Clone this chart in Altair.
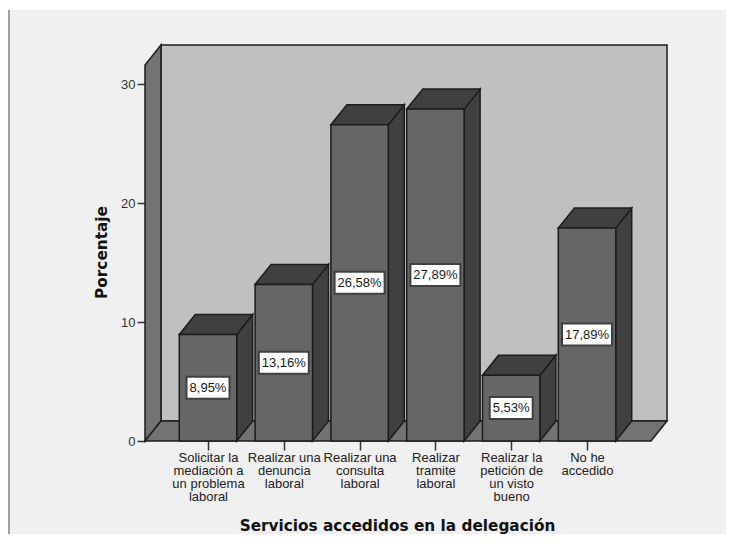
import json
import altair as alt
import pandas as pd

categories = [
    ["Solicitar la", "mediación a", "un problema", "laboral"],
    ["Realizar una", "denuncia", "laboral"],
    ["Realizar una", "consulta", "laboral"],
    ["Realizar", "tramite", "laboral"],
    ["Realizar la", "petición de", "un visto", "bueno"],
    ["No he", "accedido"],
]
values = [8.95, 13.16, 26.58, 27.89, 5.53, 17.89]
value_labels = ["8,95%", "13,16%", "26,58%", "27,89%", "5,53%", "17,89%"]

PX_X = 75.8
PX_Y = 11.9
W, H = 716, 524
X0_PX, Y0_PX = 198.0, 431.0   # position of bar 0 centre / value 0 in the view
HALF = 28.7 / PX_X
DX = 16 / PX_X
DY = 20 / PX_Y
LEFT = -63 / PX_X
RIGHT = 443 / PX_X
TOP = 31.6

xs = alt.Scale(domain=[-X0_PX / PX_X, (W - X0_PX) / PX_X], nice=False, zero=False)
ys = alt.Scale(domain=[(Y0_PX - H) / PX_Y, Y0_PX / PX_Y], nice=False, zero=False)

EDGE = "#1c1c1c"
style = dict(stroke=EDGE, strokeWidth=1.5, strokeJoin="miter")

label_expr = json.dumps(categories, ensure_ascii=False) + "[datum.value]"
x_axis = alt.Axis(
    values=list(range(len(categories))), labelExpr=label_expr, offset=-93,
    title="Servicios accedidos en la delegación", titleFont="DejaVu Sans", titleFontSize=15.3,
    titleFontWeight="bold", titleColor="#111111", titleX=387, titleY=84,
    titleAnchor="middle", titleAlign="center", titleBaseline="middle",
    labelFont="Liberation Sans", labelFontSize=13, labelLineHeight=13, labelColor="#222222",
    labelBaseline="top", labelPadding=1, labelOverlap=False, labelFlush=False, labelBound=False,
    tickSize=9, tickWidth=1.5, tickColor="#333333", domain=False, grid=False,
)
y_axis = alt.Axis(
    values=[0, 10, 20, 30], offset=-135,
    title="Porcentaje", titleFont="DejaVu Sans", titleFontSize=15.3, titleFontWeight="bold",
    titleColor="#111111", titleX=-44, titleY=242, titleAngle=270,
    titleAnchor="middle", titleAlign="center", titleBaseline="middle",
    labelFont="Liberation Sans", labelFontSize=13, labelColor="#333333", labelPadding=2,
    labelOverlap=False, labelFlush=False, labelBound=False,
    tickSize=8, tickWidth=1.5, tickColor="#333333", domain=False, grid=False,
)


def X(f):
    return alt.X(f, type="quantitative", scale=xs, axis=x_axis)


def Y(f):
    return alt.Y(f, type="quantitative", scale=ys, axis=y_axis)


# rear wall
wall = alt.Chart(pd.DataFrame({"a": [LEFT + DX], "b": [RIGHT + DX], "c": [DY], "d": [TOP + DY]})).mark_rect(
    color="#c0c0c0", **style
).encode(x=X("a"), x2="b", y=Y("c"), y2="d")

# left wall
lw = alt.Chart(pd.DataFrame({"x": [LEFT, LEFT + DX], "y": [0, DY], "y2": [TOP, TOP + DY]})).mark_area(
    color="#737373", **style
).encode(x=X("x"), y=Y("y"), y2="y2")

# floor
fl = alt.Chart(pd.DataFrame({"y": [0, DY], "x": [LEFT, LEFT + DX], "x2": [RIGHT, RIGHT + DX]})).mark_area(
    color="#737373", orient="horizontal", **style
).encode(y=Y("y"), x=X("x"), x2="x2")

# bars
side_rows, top_rows, front_rows, box_rows = [], [], [], []
for i, v in enumerate(values):
    r = i + HALF
    l = i - HALF
    side_rows += [{"i": i, "x": r, "y": 0, "y2": v}, {"i": i, "x": r + DX, "y": DY, "y2": v + DY}]
    top_rows += [{"i": i, "y": v, "x": l, "x2": r}, {"i": i, "y": v + DY, "x": l + DX, "x2": r + DX}]
    front_rows.append({"i": i, "x": l, "x2": r, "y": 0, "y2": v})
    bw = (8 + 7 * len(value_labels[i])) / PX_X / 2
    bh = 11 / PX_Y
    box_rows.append({"i": i, "x": i - bw, "x2": i + bw, "y": v / 2 - bh, "y2": v / 2 + bh,
                     "c": i, "m": v / 2, "t": value_labels[i]})

side = alt.Chart(pd.DataFrame(side_rows)).mark_area(color="#404040", **style).encode(
    x=X("x"), y=Y("y"), y2="y2", detail="i:N"
)
top = alt.Chart(pd.DataFrame(top_rows)).mark_area(color="#404040", orient="horizontal", **style).encode(
    y=Y("y"), x=X("x"), x2="x2", detail="i:N"
)
front = alt.Chart(pd.DataFrame(front_rows)).mark_rect(color="#666666", **style).encode(
    x=X("x"), x2="x2", y=Y("y"), y2="y2"
)
box_df = pd.DataFrame(box_rows)
box = alt.Chart(box_df).mark_rect(color="#ffffff", stroke="#404040", strokeWidth=2).encode(
    x=X("x"), x2="x2", y=Y("y"), y2="y2"
)
txt = alt.Chart(box_df).mark_text(font="Liberation Sans", fontSize=13, color="#1a1a1a", baseline="middle").encode(
    x=X("c"), y=Y("m"), text="t:N"
)

edge_line = alt.Chart(pd.DataFrame({"a": [0]})).mark_rule(color="#808080", strokeWidth=1.5, clip=False).encode(
    x=alt.value(-1), y=alt.value(0), y2=alt.value(H)
)

chart = (
    alt.layer(edge_line, wall, lw, fl, side, top, front, box, txt)
    .properties(
        width=W, height=H,
        padding={"left": 2, "top": 2, "right": 0, "bottom": 0},
        autosize=alt.AutoSizeParams(type="none"),
    )
    .configure_view(fill="#f0f0f0", strokeWidth=0)
)

chart.save("out.html", embed_options={"renderer": "svg", "actions": False})
